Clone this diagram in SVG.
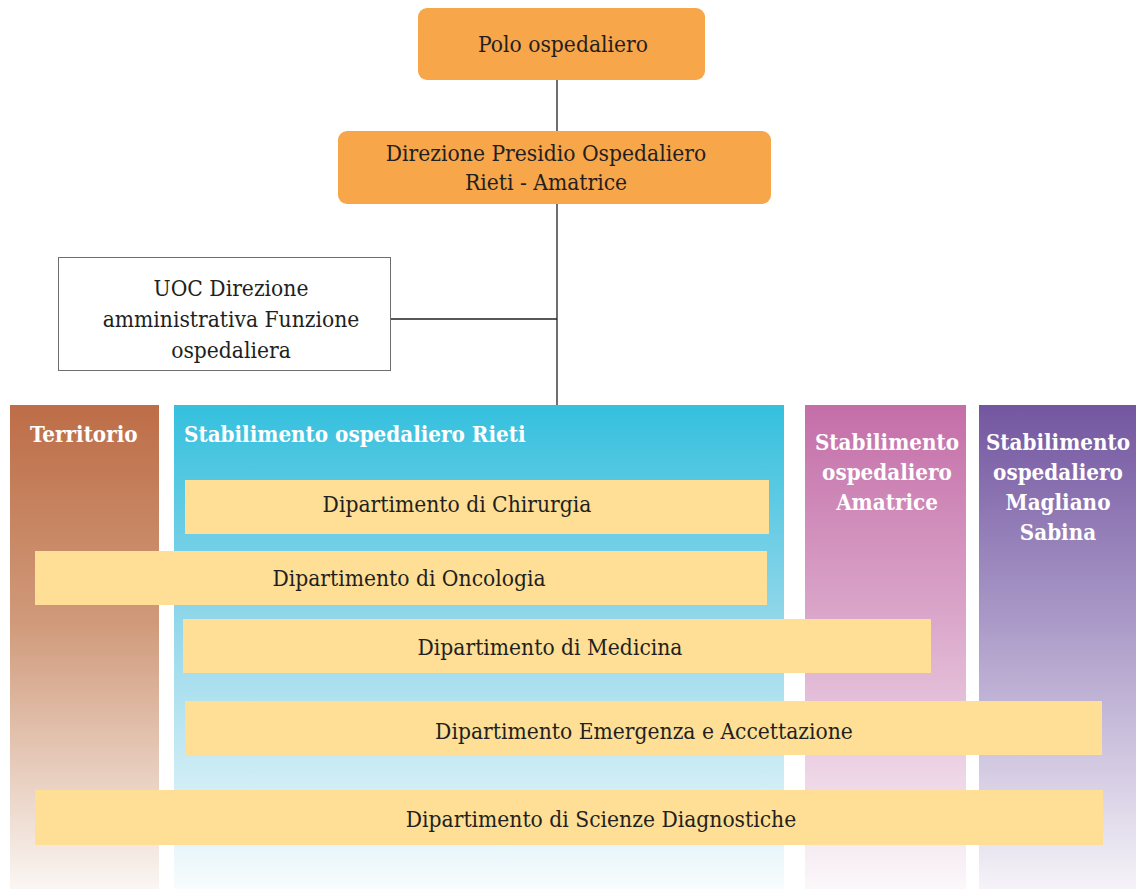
<svg xmlns="http://www.w3.org/2000/svg" width="1136" height="889" viewBox="0 0 1136 889">
  <defs>
    <linearGradient id="gTerr" x1="0" y1="0" x2="0" y2="1">
      <stop offset="0" stop-color="#bd6d47"/>
      <stop offset="0.45" stop-color="#d09a7a"/>
      <stop offset="1" stop-color="#faf6f3"/>
    </linearGradient>
    <linearGradient id="gRieti" x1="0" y1="0" x2="0" y2="1">
      <stop offset="0" stop-color="#34c0de"/>
      <stop offset="0.45" stop-color="#93d7ea"/>
      <stop offset="1" stop-color="#f8fcfd"/>
    </linearGradient>
    <linearGradient id="gAmat" x1="0" y1="0" x2="0" y2="1">
      <stop offset="0" stop-color="#c46ea8"/>
      <stop offset="0.45" stop-color="#dba8cb"/>
      <stop offset="1" stop-color="#fbf8fa"/>
    </linearGradient>
    <linearGradient id="gMagl" x1="0" y1="0" x2="0" y2="1">
      <stop offset="0" stop-color="#7356a0"/>
      <stop offset="0.45" stop-color="#ab9ac8"/>
      <stop offset="1" stop-color="#f5f3f8"/>
    </linearGradient>
    <style>
      .orange { fill: #f7a64a; }
      .t { font-family: "DejaVu Serif Condensed", "DejaVu Serif", "Liberation Serif", serif; font-size: 22.6px; fill: #231f20; text-anchor: middle; }
      .h { font-family: "DejaVu Serif Condensed", "DejaVu Serif", "Liberation Serif", serif; font-size: 22.2px; font-weight: bold; fill: #ffffff; }
      .bar { fill: #fedf95; }
      .line { stroke: #231f20; stroke-width: 1.3; fill: none; }
    </style>
  </defs>

  <!-- column backgrounds -->
  <g id="col-territorio">
    <rect x="10" y="405" width="149" height="484" fill="url(#gTerr)"/>
    <text class="h" x="30" y="442">Territorio</text>
  </g>
  <g id="col-rieti">
    <rect x="174" y="405" width="610" height="484" fill="url(#gRieti)"/>
    <text class="h" x="184" y="442">Stabilimento ospedaliero Rieti</text>
  </g>
  <g id="col-amatrice">
    <rect x="805" y="405" width="161" height="484" fill="url(#gAmat)"/>
    <text class="h" text-anchor="middle" x="887" y="450">Stabilimento</text>
    <text class="h" text-anchor="middle" x="887" y="480">ospedaliero</text>
    <text class="h" text-anchor="middle" x="887" y="510">Amatrice</text>
  </g>
  <g id="col-magliano">
    <rect x="979" y="405" width="157" height="484" fill="url(#gMagl)"/>
    <text class="h" text-anchor="middle" x="1058" y="450">Stabilimento</text>
    <text class="h" text-anchor="middle" x="1058" y="480">ospedaliero</text>
    <text class="h" text-anchor="middle" x="1058" y="510">Magliano</text>
    <text class="h" text-anchor="middle" x="1058" y="540">Sabina</text>
  </g>

  <!-- connectors -->
  <g id="connectors">
    <line class="line" x1="557" y1="80" x2="557" y2="131"/>
    <line class="line" x1="557" y1="204" x2="557" y2="405"/>
    <line class="line" x1="391" y1="319" x2="557" y2="319"/>
  </g>

  <!-- top hierarchy -->
  <g id="polo">
    <rect class="orange" x="418" y="8" width="287" height="72" rx="9"/>
    <text class="t" x="563" y="52">Polo ospedaliero</text>
  </g>
  <g id="direzione">
    <rect class="orange" x="338" y="131" width="433" height="73" rx="9"/>
    <text class="t" x="546" y="161">Direzione Presidio Ospedaliero</text>
    <text class="t" x="546" y="190">Rieti - Amatrice</text>
  </g>
  <g id="uoc">
    <rect x="58.5" y="257.5" width="332" height="113" fill="#ffffff" stroke="#6d6e71" stroke-width="1"/>
    <text class="t" x="231" y="296">UOC Direzione</text>
    <text class="t" x="231" y="327">amministrativa Funzione</text>
    <text class="t" x="231" y="358">ospedaliera</text>
  </g>

  <!-- departments -->
  <g id="dip-chirurgia">
    <rect class="bar" x="185" y="480" width="584" height="54"/>
    <text class="t" x="457" y="512">Dipartimento di Chirurgia</text>
  </g>
  <g id="dip-oncologia">
    <rect class="bar" x="35" y="551" width="732" height="54"/>
    <text class="t" x="409" y="586">Dipartimento di Oncologia</text>
  </g>
  <g id="dip-medicina">
    <rect class="bar" x="183" y="619" width="748" height="54"/>
    <text class="t" x="550" y="655">Dipartimento di Medicina</text>
  </g>
  <g id="dip-emergenza">
    <rect class="bar" x="185" y="701" width="917" height="54"/>
    <text class="t" x="644" y="739">Dipartimento Emergenza e Accettazione</text>
  </g>
  <g id="dip-scienze">
    <rect class="bar" x="35" y="790" width="1068" height="55"/>
    <text class="t" x="601" y="827">Dipartimento di Scienze Diagnostiche</text>
  </g>
</svg>
